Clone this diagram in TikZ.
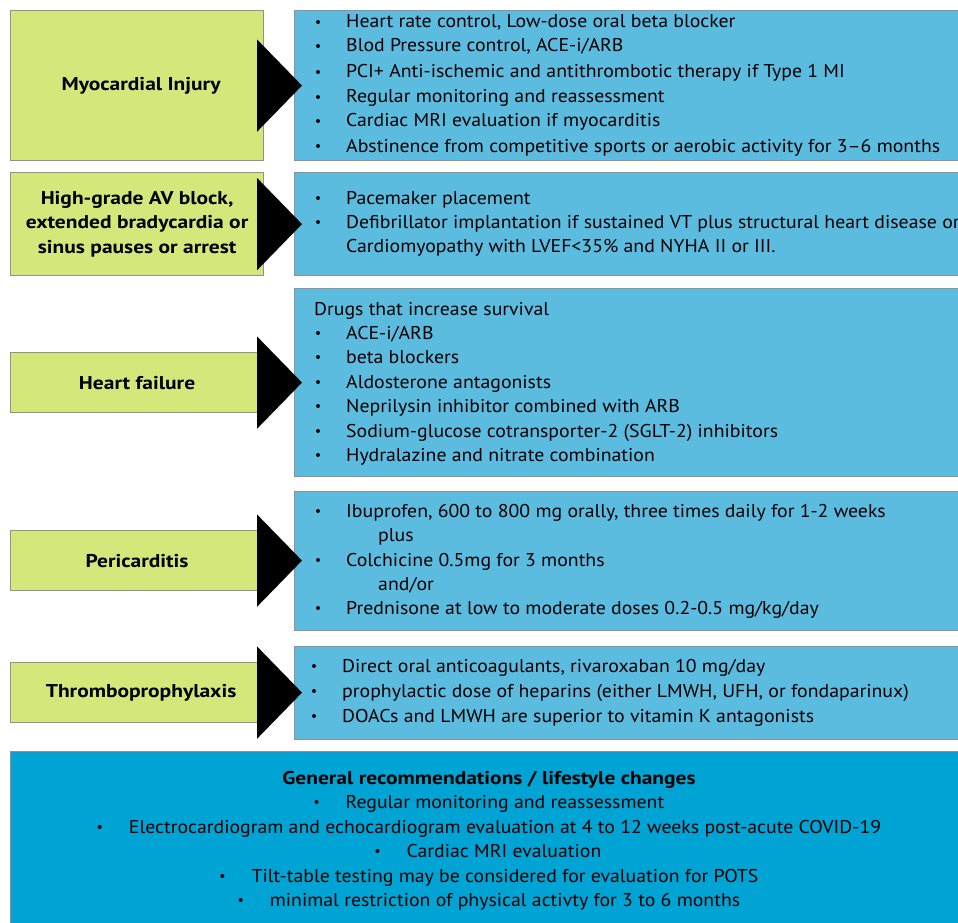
\documentclass[tikz,border=0pt]{standalone}
\usepackage{fontspec}
\setmainfont{PT Sans}[FakeStretch=1.07, BoldFeatures={FakeStretch=1.16}]
\usetikzlibrary{calc}
\definecolor{gr}{RGB}{212,231,122}
\definecolor{lb}{RGB}{92,188,224}
\definecolor{db}{RGB}{0,164,212}
\definecolor{bd}{RGB}{145,145,145}
\newcommand\itm[4]{%
  \node[tx] (#1) at (#2,#3) {#4};
  \fill ($(#1.base west)+(-28,-6)$) circle (2);}
\begin{document}
\begin{tikzpicture}[x=1pt,y=-1pt,
  gbox/.style={draw=bd, line width=1.2pt, fill=gr, inner sep=0, anchor=north west, align=center,
    font=\bfseries\fontsize{18.5}{24.5}\selectfont},
  bbox/.style={draw=bd, line width=1.2pt, fill=lb, inner sep=0, anchor=north west},
  tx/.style={anchor=base west, inner sep=0, font=\fontsize{18.5}{21}\selectfont},
  ctx/.style={anchor=base, inner sep=0, font=\fontsize{18.5}{21}\selectfont},
  arr/.style={fill=black}]
\useasboundingbox (0,0) rectangle (958,923);
\fill[white] (0,0) rectangle (958,923);

% left boxes
\node[gbox, minimum width=253pt, minimum height=150pt] (g1) at (10,10) {\hspace*{8pt}Myocardial Injury};
\node[gbox, minimum width=253pt, minimum height=103pt] (g2) at (10,172) {High-grade AV block,\\extended bradycardia or\\sinus pauses or arrest};
\node[gbox, minimum width=253pt, minimum height=60pt] (g3) at (10,352) {Heart failure};
\node[gbox, minimum width=253pt, minimum height=60pt] (g4) at (10,530) {Pericarditis};
\node[gbox, minimum width=253pt, minimum height=60pt] (g5) at (10,662) {\hspace*{8pt}Thromboprophylaxis};

% right boxes
\node[bbox, minimum width=670pt, minimum height=150pt] (b1) at (294,10) {};
\node[bbox, minimum width=670pt, minimum height=103pt] (b2) at (294,172) {};
\node[bbox, minimum width=670pt, minimum height=188pt] (b3) at (294,288) {};
\node[bbox, minimum width=670pt, minimum height=139pt] (b4) at (294,491) {};
\node[bbox, minimum width=670pt, minimum height=93pt] (b5) at (294,646) {};
\node[draw=bd, line width=1.2pt, fill=db, inner sep=0, anchor=north west,
  minimum width=954pt, minimum height=180pt] (gen) at (10,751) {};

% arrows
\foreach \g/\b in {g1/b1,g2/b2,g3/b3,g4/b4,g5/b5}{
  \fill[arr] ($(\g.east)+(-7,-46)$) -- ($(\g.east)+(-7,46)$) -- ($(\g.east-|\b.west)+(8,0)$) -- cycle;
}

% box 1
\itm{a1}{346}{28}{Heart rate control, Low-dose oral beta blocker}
\itm{a2}{346}{52}{Blod Pressure control, ACE-i/ARB}
\itm{a3}{346}{78}{PCI+ Anti-ischemic and antithrombotic therapy if Type 1 MI}
\itm{a4}{346}{103}{Regular monitoring and reassessment}
\itm{a5}{346}{127}{Cardiac MRI evaluation if myocarditis}
\itm{a6}{346}{152}{Abstinence from competitive sports or aerobic activity for 3–6 months}

% box 2
\itm{c1}{346}{204}{Pacemaker placement}
\itm{c2}{346}{228}{Defibrillator implantation if sustained VT plus structural heart disease or}
\node[tx] (c3) at (346,252) {Cardiomyopathy with LVEF<35\% and NYHA II or III.};

% box 3
\node[tx] (d0) at (314,315) {Drugs that increase survival};
\itm{d1}{346}{339}{ACE-i/ARB}
\itm{d2}{346}{363}{beta blockers}
\itm{d3}{346}{388}{Aldosterone antagonists}
\itm{d4}{346}{412}{Neprilysin inhibitor combined with ARB}
\itm{d5}{346}{437}{Sodium-glucose cotransporter-2 (SGLT-2) inhibitors}
\itm{d6}{346}{461}{Hydralazine and nitrate combination}

% box 4
\itm{e1}{346}{517}{Ibuprofen, 600 to 800 mg orally, three times daily for 1-2 weeks}
\node[tx] (e2) at (378,541) {plus};
\itm{e3}{346}{566}{Colchicine 0.5mg for 3 months}
\node[tx] (e4) at (378,590) {and/or};
\itm{e5}{346}{614}{Prednisone at low to moderate doses 0.2-0.5 mg/kg/day}

% box 5
\itm{f1}{342}{672}{Direct oral anticoagulants, rivaroxaban 10 mg/day}
\itm{f2}{342}{697}{prophylactic dose of heparins (either LMWH, UFH, or fondaparinux)}
\itm{f3}{342}{722}{DOACs and LMWH are superior to vitamin K antagonists}

% general box
\node[ctx, font=\bfseries\fontsize{18.5}{21}\selectfont] (h0) at (489,784) {General recommendations / lifestyle changes};
\node[ctx] (h1) at (505,808) {Regular monitoring and reassessment};
\node[ctx] (h2) at (505,833) {Electrocardiogram and echocardiogram evaluation at 4 to 12 weeks post-acute COVID-19};
\node[ctx] (h3) at (504,857) {Cardiac MRI evaluation};
\node[ctx] (h4) at (505,882) {Tilt-table testing may be considered for evaluation for POTS};
\node[ctx] (h5) at (505,906) {minimal restriction of physical activty for 3 to 6 months};
\foreach \h in {h1,h2,h3,h4,h5}{
  \fill ($(\h.base west)+(-29,-6)$) circle (2);
}
\end{tikzpicture}
\end{document}
